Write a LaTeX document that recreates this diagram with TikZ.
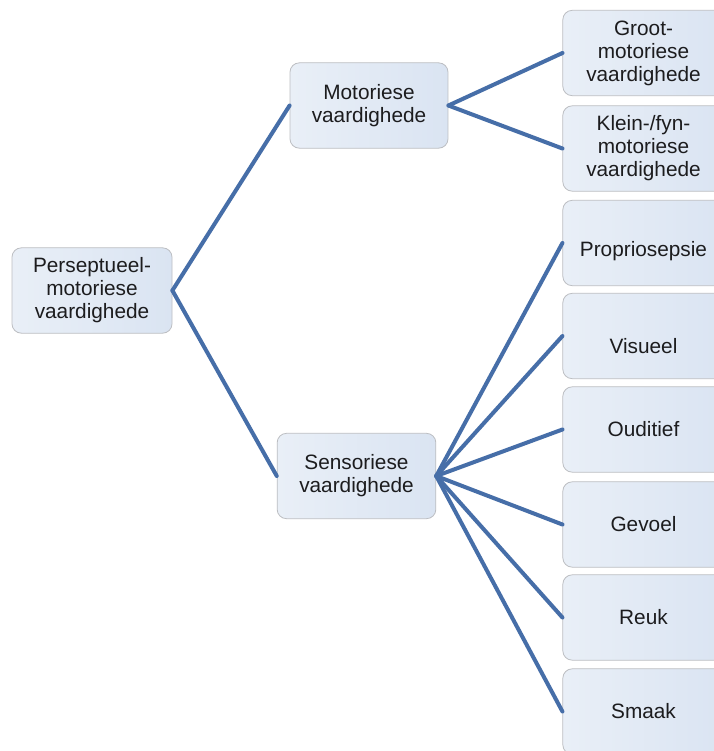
\documentclass[tikz,border=0pt]{standalone}
\usepackage{fontspec}
\setmainfont{Liberation Sans}
\usetikzlibrary{shadings}
\definecolor{boxleft}{RGB}{233,239,247}
\definecolor{boxright}{RGB}{218,228,242}
\definecolor{boxline}{RGB}{188,190,194}
\definecolor{linkblue}{RGB}{70,110,168}
\definecolor{txt}{RGB}{28,28,30}
\tikzset{
  box/.style={draw=boxline, line width=0.6pt, rounded corners=7pt,
    left color=boxleft, right color=boxright,
    minimum width=120pt, minimum height=64pt, inner sep=2pt,
    align=center, text=txt,
    font=\fontsize{15.6pt}{17.2pt}\selectfont},
  leaf/.style={box, minimum width=121pt},
  link/.style={draw=linkblue, line width=3pt, line cap=round}
}
\begin{document}
\begin{tikzpicture}[x=0.75pt, y=-0.75pt]
  \useasboundingbox (0,0) rectangle (714,751);
  \fill[white] (0,0) rectangle (714,751);
  \clip (0,0) rectangle (714,751);

  % first two levels
  \node[box] (root) at (92,290.5) {Perseptueel-\\motoriese\\vaardighede};
  \node[box, minimum width=118.5pt] (mot) at (369,105.5) {Motoriese\\vaardighede};
  \node[box, minimum width=119pt] (sen) at (356.5,476) {Sensoriese\\vaardighede};

  % leaves (cut by the right edge of the page)
  \node[leaf] (groot) at (643.5,53) {Groot-\\motoriese\\vaardighede};
  \node[leaf] (klein) at (643.5,148.5) {Klein-/fyn-\\motoriese\\vaardighede};
  \node[leaf] (prop) at (643.5,243) {\rule{0pt}{24pt}Propriosepsie};
  \node[leaf] (vis) at (643.5,336) {\rule{0pt}{27pt}Visueel};
  \node[leaf] (oud) at (643.5,429.5) {Ouditief};
  \node[leaf] (gev) at (643.5,524.5) {Gevoel};
  \node[leaf] (reuk) at (643.5,617.5) {Reuk};
  \node[leaf] (smaak) at (643.5,711.5) {Smaak};

  % connectors
  \draw[link] (root.east) -- (mot.west);
  \draw[link] (root.east) -- (sen.west);
  \draw[link] (mot.east) -- (groot.west);
  \draw[link] (mot.east) -- (klein.west);
  \foreach \leafname in {prop,vis,oud,gev,reuk,smaak}
    \draw[link] (sen.east) -- (\leafname.west);
\end{tikzpicture}
\end{document}
